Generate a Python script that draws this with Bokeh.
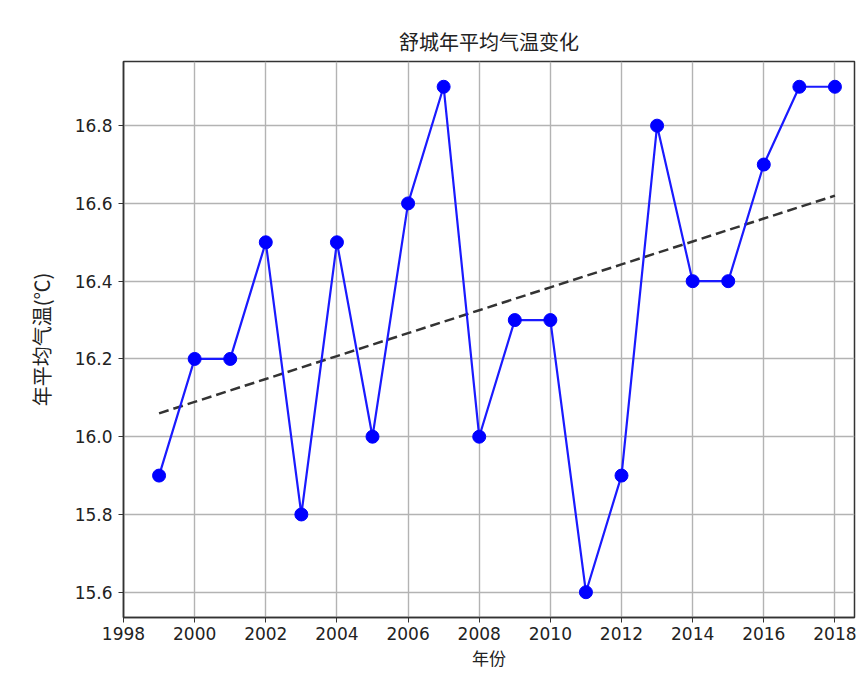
import numpy as np
from bokeh.plotting import figure
from bokeh.models import Range1d, FixedTicker, CustomJSTickFormatter
from bokeh.embed import file_html
from bokeh.resources import INLINE

years = [1999, 2000, 2001, 2002, 2003, 2004, 2005, 2006, 2007, 2008,
         2009, 2010, 2011, 2012, 2013, 2014, 2015, 2016, 2017, 2018]
temps = [15.9, 16.2, 16.2, 16.5, 15.8, 16.5, 16.0, 16.6, 16.9, 16.0,
         16.3, 16.3, 15.6, 15.9, 16.8, 16.4, 16.4, 16.7, 16.9, 16.9]
x_ticks = list(range(1998, 2019, 2))
y_ticks = [15.6, 15.8, 16.0, 16.2, 16.4, 16.6, 16.8]

title = "舒城年平均气温变化"
xlabel = "年份"
ylabel = "年平均气温(℃)"

coef = np.polyfit(years, temps, 1)
trend = [coef[0] * y + coef[1] for y in years]

p = figure(width=858, height=672, output_backend="svg", toolbar_location=None,
           x_range=Range1d(1998.0, 2018.55), y_range=Range1d(15.535, 16.965),
           min_border_left=123, min_border_top=61, min_border_bottom=53,
           min_border_right=4)

p.title.text = title
p.title.align = "center"
p.title.text_font = "Noto Sans CJK SC"
p.title.text_font_size = "20px"
p.title.text_font_style = "normal"
p.title.text_color = "#222222"
p.title.offset = 0
p.title.standoff = 12

p.line(years, trend, line_color="#333333", line_width=2.5, line_dash="10 5")
p.line(years, temps, line_color="#1a1aff", line_width=2.2)
p.scatter(years, temps, size=13, fill_color="#0000ff", line_color="#0000ff")

for ax in (p.xaxis, p.yaxis):
    ax.major_label_text_font = "DejaVu Sans"
    ax.major_label_text_font_size = "17px"
    ax.major_label_text_color = "#222222"
    ax.axis_label_text_font = "Noto Sans CJK SC"
    ax.axis_label_text_font_style = "normal"
    ax.axis_label_text_color = "#222222"
    ax.minor_tick_line_color = None
    ax.major_tick_out = 5
    ax.major_tick_in = 0
    ax.major_tick_line_color = "#333333"
    ax.axis_line_color = "#333333"
    ax.axis_line_width = 1.5

p.xaxis.ticker = FixedTicker(ticks=x_ticks)
p.yaxis.ticker = FixedTicker(ticks=y_ticks)
p.yaxis.formatter = CustomJSTickFormatter(code="return tick.toFixed(1);")
p.xaxis.axis_label = xlabel
p.yaxis.axis_label = ylabel
p.xaxis.axis_label_text_font_size = "17px"
p.yaxis.axis_label_text_font_size = "20px"
p.xaxis.major_label_standoff = 4
p.yaxis.major_label_standoff = 6
p.yaxis.axis_label_standoff = 16
p.xaxis.axis_label_standoff = 2

p.xgrid.ticker = FixedTicker(ticks=x_ticks)
p.ygrid.ticker = FixedTicker(ticks=y_ticks)
p.grid.grid_line_color = "#b3b3b3"
p.grid.grid_line_width = 1.4

p.outline_line_color = "#333333"
p.outline_line_width = 1.5
p.background_fill_color = "white"
p.border_fill_color = "white"

open("out.html", "w").write(file_html(p, INLINE))
